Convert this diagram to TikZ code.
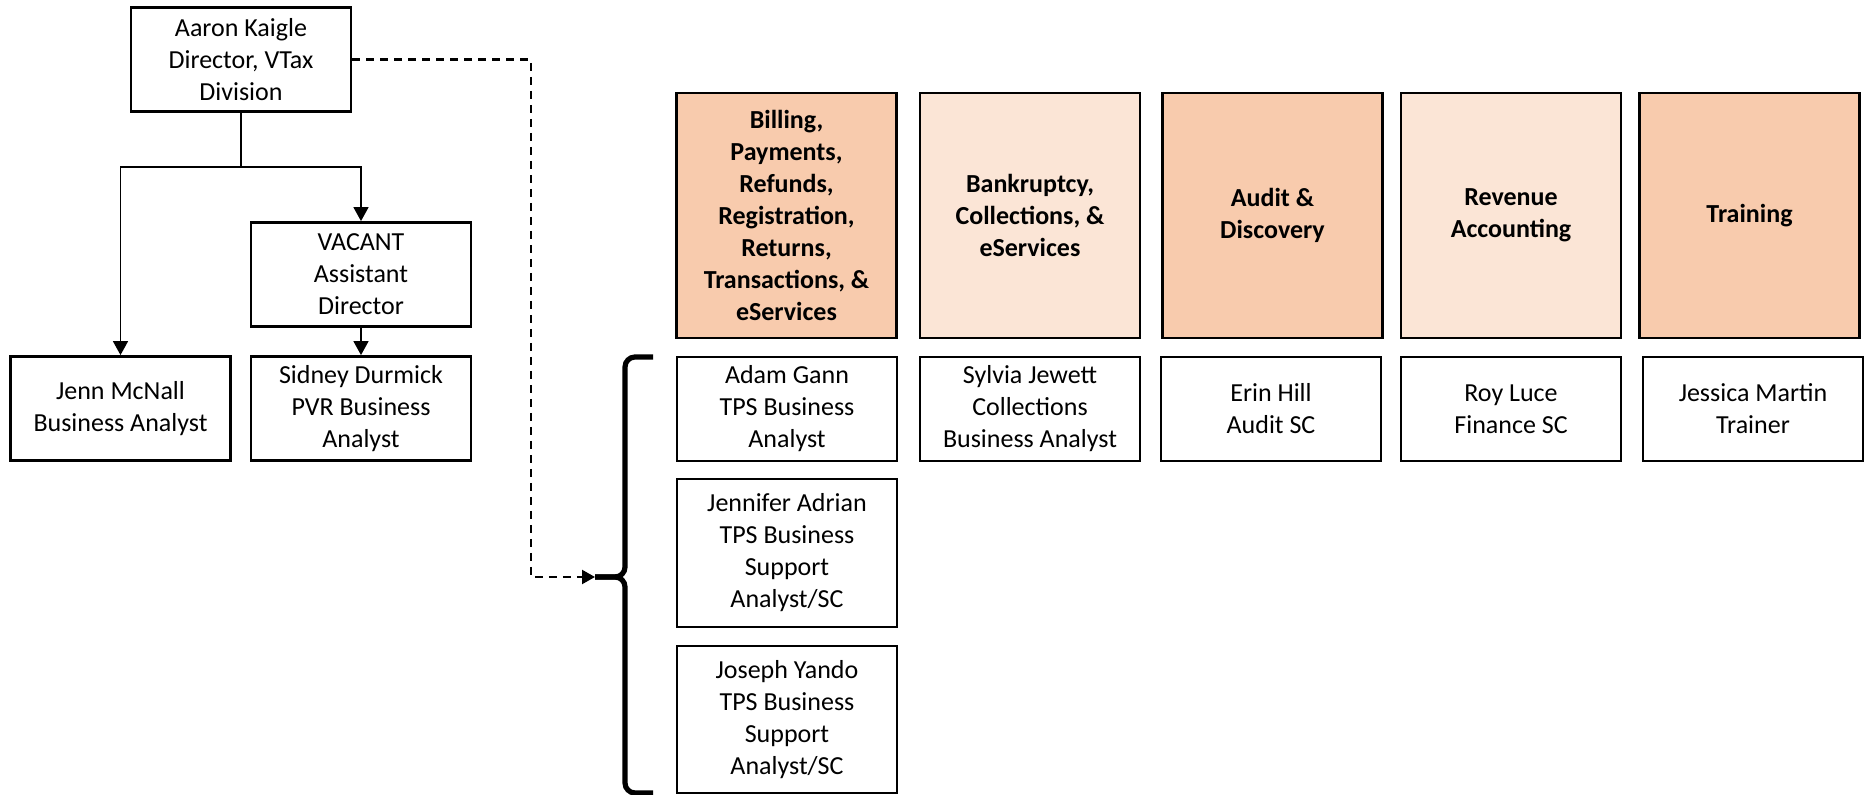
\documentclass[tikz,border=0pt]{standalone}
\usepackage{fontspec}
\setmainfont{Carlito}
\usepackage{tikz}
\usetikzlibrary{arrows.meta}
\definecolor{headdark}{HTML}{F8CBAD}
\definecolor{headlight}{HTML}{FBE5D6}

\begin{document}
\begin{tikzpicture}[x=0.5pt,y=-0.5pt,
  box/.style={draw, line width=1.4pt, inner sep=0pt, align=center,
    minimum width=110pt, minimum height=52pt, font=\fontsize{13}{16}\selectfont},
  head/.style={box, minimum height=122.5pt, font=\fontsize{13}{16}\selectfont\bfseries},
  conn/.style={line width=0.8pt, -{Triangle[width=7.5pt,length=7pt]}},
  dashlink/.style={line width=1.1pt, dash pattern=on 4pt off 3pt, -{Triangle[width=7pt,length=6.5pt]}},
  bracket/.style={line width=2.6pt, rounded corners=5pt}]

\useasboundingbox (0,0) rectangle (1868,795);

% la direction
\node[box] (aaron) at (241,59.5) {Aaron Kaigle\\Director, VTax\\Division};
\node[box] (vacant) at (361,274.5) {VACANT\\Assistant\\Director};
\node[box] (jenn) at (120.5,408.5) {Jenn McNall\\Business Analyst};
\node[box] (sidney) at (361,408.5) {Sidney Durmick\\PVR Business\\Analyst};

\coordinate (split) at (241,167);
\draw[conn] (aaron.south) -- (split) -| (jenn.north);
\draw[conn] (split) -| (vacant.north);
\draw[conn] (vacant.south) -- (sidney.north);

% les services
\node[head, fill=headdark] (billing) at (786.5,215.5) {Billing,\\Payments,\\Refunds,\\Registration,\\Returns,\\Transactions, \&\\eServices};
\node[head, fill=headlight] (bankruptcy) at (1030,215.5) {Bankruptcy,\\Collections, \&\\eServices};
\node[head, fill=headdark] (audit) at (1272.5,215.5) {Audit \&\\Discovery};
\node[head, fill=headlight] (revenue) at (1511,215.5) {Revenue\\Accounting};
\node[head, fill=headdark] (training) at (1749.5,215.5) {Training};

% le personnel
\node[box] (adam) at (787,409) {Adam Gann\\TPS Business\\Analyst};
\node[box, minimum height=74pt] (jennifer) at (787,553) {Jennifer Adrian\\TPS Business\\Support\\Analyst/SC};
\node[box, minimum height=73.5pt] (joseph) at (787,719.5) {Joseph Yando\\TPS Business\\Support\\Analyst/SC};
\node[box] (sylvia) at (1030,409) {Sylvia Jewett\\Collections\\Business Analyst};
\node[box] (erin) at (1271,409) {Erin Hill\\Audit SC};
\node[box] (roy) at (1511,409) {Roy Luce\\Finance SC};
\node[box] (jessica) at (1753,409) {Jessica Martin\\Trainer};

% l'accolade et le lien en pointillés
\coordinate (tip) at (595,577);
\coordinate (elbow) at (531,577);
\draw[bracket] (653,357) -| (625,577) -- (tip);
\draw[bracket] (tip) -- (625,577) |- (653,793);
\draw[dashlink] (aaron.east) -| (elbow) -- (tip);
\end{tikzpicture}
\end{document}
